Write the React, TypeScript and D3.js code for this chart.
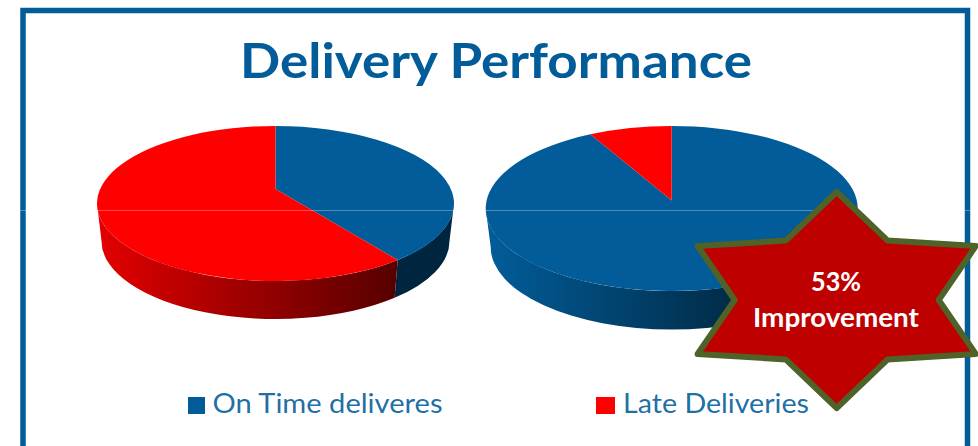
import React, { useEffect, useRef } from 'react';
import * as d3 from 'd3';

const categories = ['On Time deliveres', 'Late Deliveries'];
// share of each pie, before and after
const onTimeShare = [38, 92.8];
const lateShare = [62, 7.2];
const colors = ['#025C99', '#FF0000'];

const chartTitle = 'Delivery Performance';
const badgeLines = ['53%', 'Improvement'];

// Pie geometry in the page. The hub sits above the middle of the ellipse, as in a tilted 3D pie.
const pieLayouts = [
  {
    cx: 275.5, cy: 203.5, rx: 178.5, ry: 77.5, hubY: 189,
    baseCy: 241, baseRx: 174, baseRy: 78,
    wallGrad: [
      { from: '#00263F', to: '#00263F', x1: 390, x2: 460 },
      { from: '#E20000', to: '#560000', x1: 100, x2: 397 },
    ],
  },
  {
    cx: 671.7, cy: 208.5, rx: 186, ry: 82.5, hubY: 200.5,
    baseCy: 247, baseRx: 181, baseRy: 82.5,
    wallGrad: [
      { from: '#025C99', to: '#00263F', x1: 490, x2: 760 },
      { from: '#E20000', to: '#560000', x1: 490, x2: 760 },
    ],
  },
];

export default function App() {
  const svgRef = useRef<SVGSVGElement>(null);

  useEffect(() => {
    const svg = d3.select(svgRef.current);
    svg.selectAll('*').remove();

    const defs = svg.append('defs');
    const pie = d3.pie<number>().sort(null);

    // Frame, open at the bottom
    svg.append('path')
      .attr('d', 'M23,446V10.5H967.5V446')
      .attr('fill', 'none')
      .attr('stroke', colors[0])
      .attr('stroke-width', 5.5);

    // Title
    svg.append('text')
      .attr('x', 240)
      .attr('y', 78)
      .attr('font-family', 'Lato, sans-serif')
      .attr('font-weight', 700)
      .attr('font-size', 47)
      .attr('textLength', 512)
      .attr('lengthAdjust', 'spacingAndGlyphs')
      .attr('fill', colors[0])
      .text(chartTitle);

    pieLayouts.forEach((p, i) => {
      const g = svg.append('g');
      const arcs = pie([onTimeShare[i], lateShare[i]]);

      const top = (a: number) => [p.cx + p.rx * Math.sin(a), p.cy - p.ry * Math.cos(a)];
      const base = (a: number) => [p.cx + p.baseRx * Math.sin(a), p.baseCy - p.baseRy * Math.cos(a)];

      // Walls: only the front half of the pie shows
      arcs.forEach((d, j) => {
        const a0 = Math.max(d.startAngle, Math.PI / 2);
        const a1 = Math.min(d.endAngle, Math.PI * 1.5);
        if (a1 <= a0) return;

        const shade = p.wallGrad[j];
        const id = `wall-${i}-${j}`;
        const grad = defs.append('linearGradient')
          .attr('id', id)
          .attr('gradientUnits', 'userSpaceOnUse')
          .attr('x1', shade.x1)
          .attr('x2', shade.x2)
          .attr('y1', 0)
          .attr('y2', 0);
        grad.append('stop').attr('offset', 0).attr('stop-color', shade.from);
        grad.append('stop').attr('offset', 1).attr('stop-color', shade.to);

        const [tx0, ty0] = top(a0);
        const [tx1, ty1] = top(a1);
        const [bx0, by0] = base(a0);
        const [bx1, by1] = base(a1);
        g.append('path')
          .attr('d', `M${tx0},${ty0}A${p.rx},${p.ry} 0 0 1 ${tx1},${ty1}` +
            `L${bx1},${by1}A${p.baseRx},${p.baseRy} 0 0 0 ${bx0},${by0}Z`)
          .attr('fill', `url(#${id})`);
      });

      // Top face
      arcs.forEach((d, j) => {
        const [x0, y0] = top(d.startAngle);
        const [x1, y1] = top(d.endAngle);
        const large = d.endAngle - d.startAngle > Math.PI ? 1 : 0;
        g.append('path')
          .attr('d', `M${p.cx},${p.hubY}L${x0},${y0}A${p.rx},${p.ry} 0 ${large} 1 ${x1},${y1}Z`)
          .attr('fill', colors[j]);
      });
    });

    // Faint line that runs across the whole picture
    svg.append('line')
      .attr('x1', 20).attr('x2', 970)
      .attr('y1', 210.5).attr('y2', 210.5)
      .attr('stroke', '#fff')
      .attr('stroke-opacity', 0.3)
      .attr('stroke-width', 1);

    // Legend
    const legendItems = [
      { swatchX: 188, swatchW: 17, textX: 212.5, textW: 230 },
      { swatchX: 596, swatchW: 19, textX: 623, textW: 186 },
    ];
    categories.forEach((c, i) => {
      const l = legendItems[i];
      svg.append('rect')
        .attr('x', l.swatchX)
        .attr('y', 397)
        .attr('width', l.swatchW)
        .attr('height', 17)
        .attr('fill', colors[i]);
      svg.append('text')
        .attr('x', l.textX)
        .attr('y', 413)
        .attr('font-family', 'Lato, sans-serif')
        .attr('font-size', 26)
        .attr('textLength', l.textW)
        .attr('lengthAdjust', 'spacingAndGlyphs')
        .attr('fill', colors[0])
        .attr('fill-opacity', 0.9)
        .text(c);
    });

    // Six-pointed badge
    const badgeCx = 836.7, badgeCy = 300, outerR = 108, innerR = 68.6, stretchX = 1.487;
    const starPoints: [number, number][] = d3.range(12).map((k) => {
      const a = (k * Math.PI) / 6;
      const r = k % 2 === 0 ? outerR : innerR;
      return [badgeCx + r * Math.sin(a) * stretchX, badgeCy - r * Math.cos(a)];
    });
    svg.append('path')
      .attr('d', d3.line().curve(d3.curveLinearClosed)(starPoints))
      .attr('fill', '#BE0000')
      .attr('stroke', '#4F6228')
      .attr('stroke-width', 6)
      .attr('stroke-linejoin', 'round');

    const badgeWidths = [50, 166];
    badgeLines.forEach((t, i) => {
      svg.append('text')
        .attr('x', 836 - badgeWidths[i] / 2)
        .attr('y', i === 0 ? 291 : 327)
        .attr('font-family', 'Lato, sans-serif')
        .attr('font-weight', 700)
        .attr('font-size', 26)
        .attr('textLength', badgeWidths[i])
        .attr('lengthAdjust', 'spacingAndGlyphs')
        .attr('fill', '#fff')
        .text(t);
    });
  }, []);

  return (
    <svg
      ref={svgRef}
      width={978}
      height={446}
      viewBox="0 0 978 446"
      style={{ position: 'fixed', left: 0, top: 0, background: '#fff' }}
    />
  );
}
